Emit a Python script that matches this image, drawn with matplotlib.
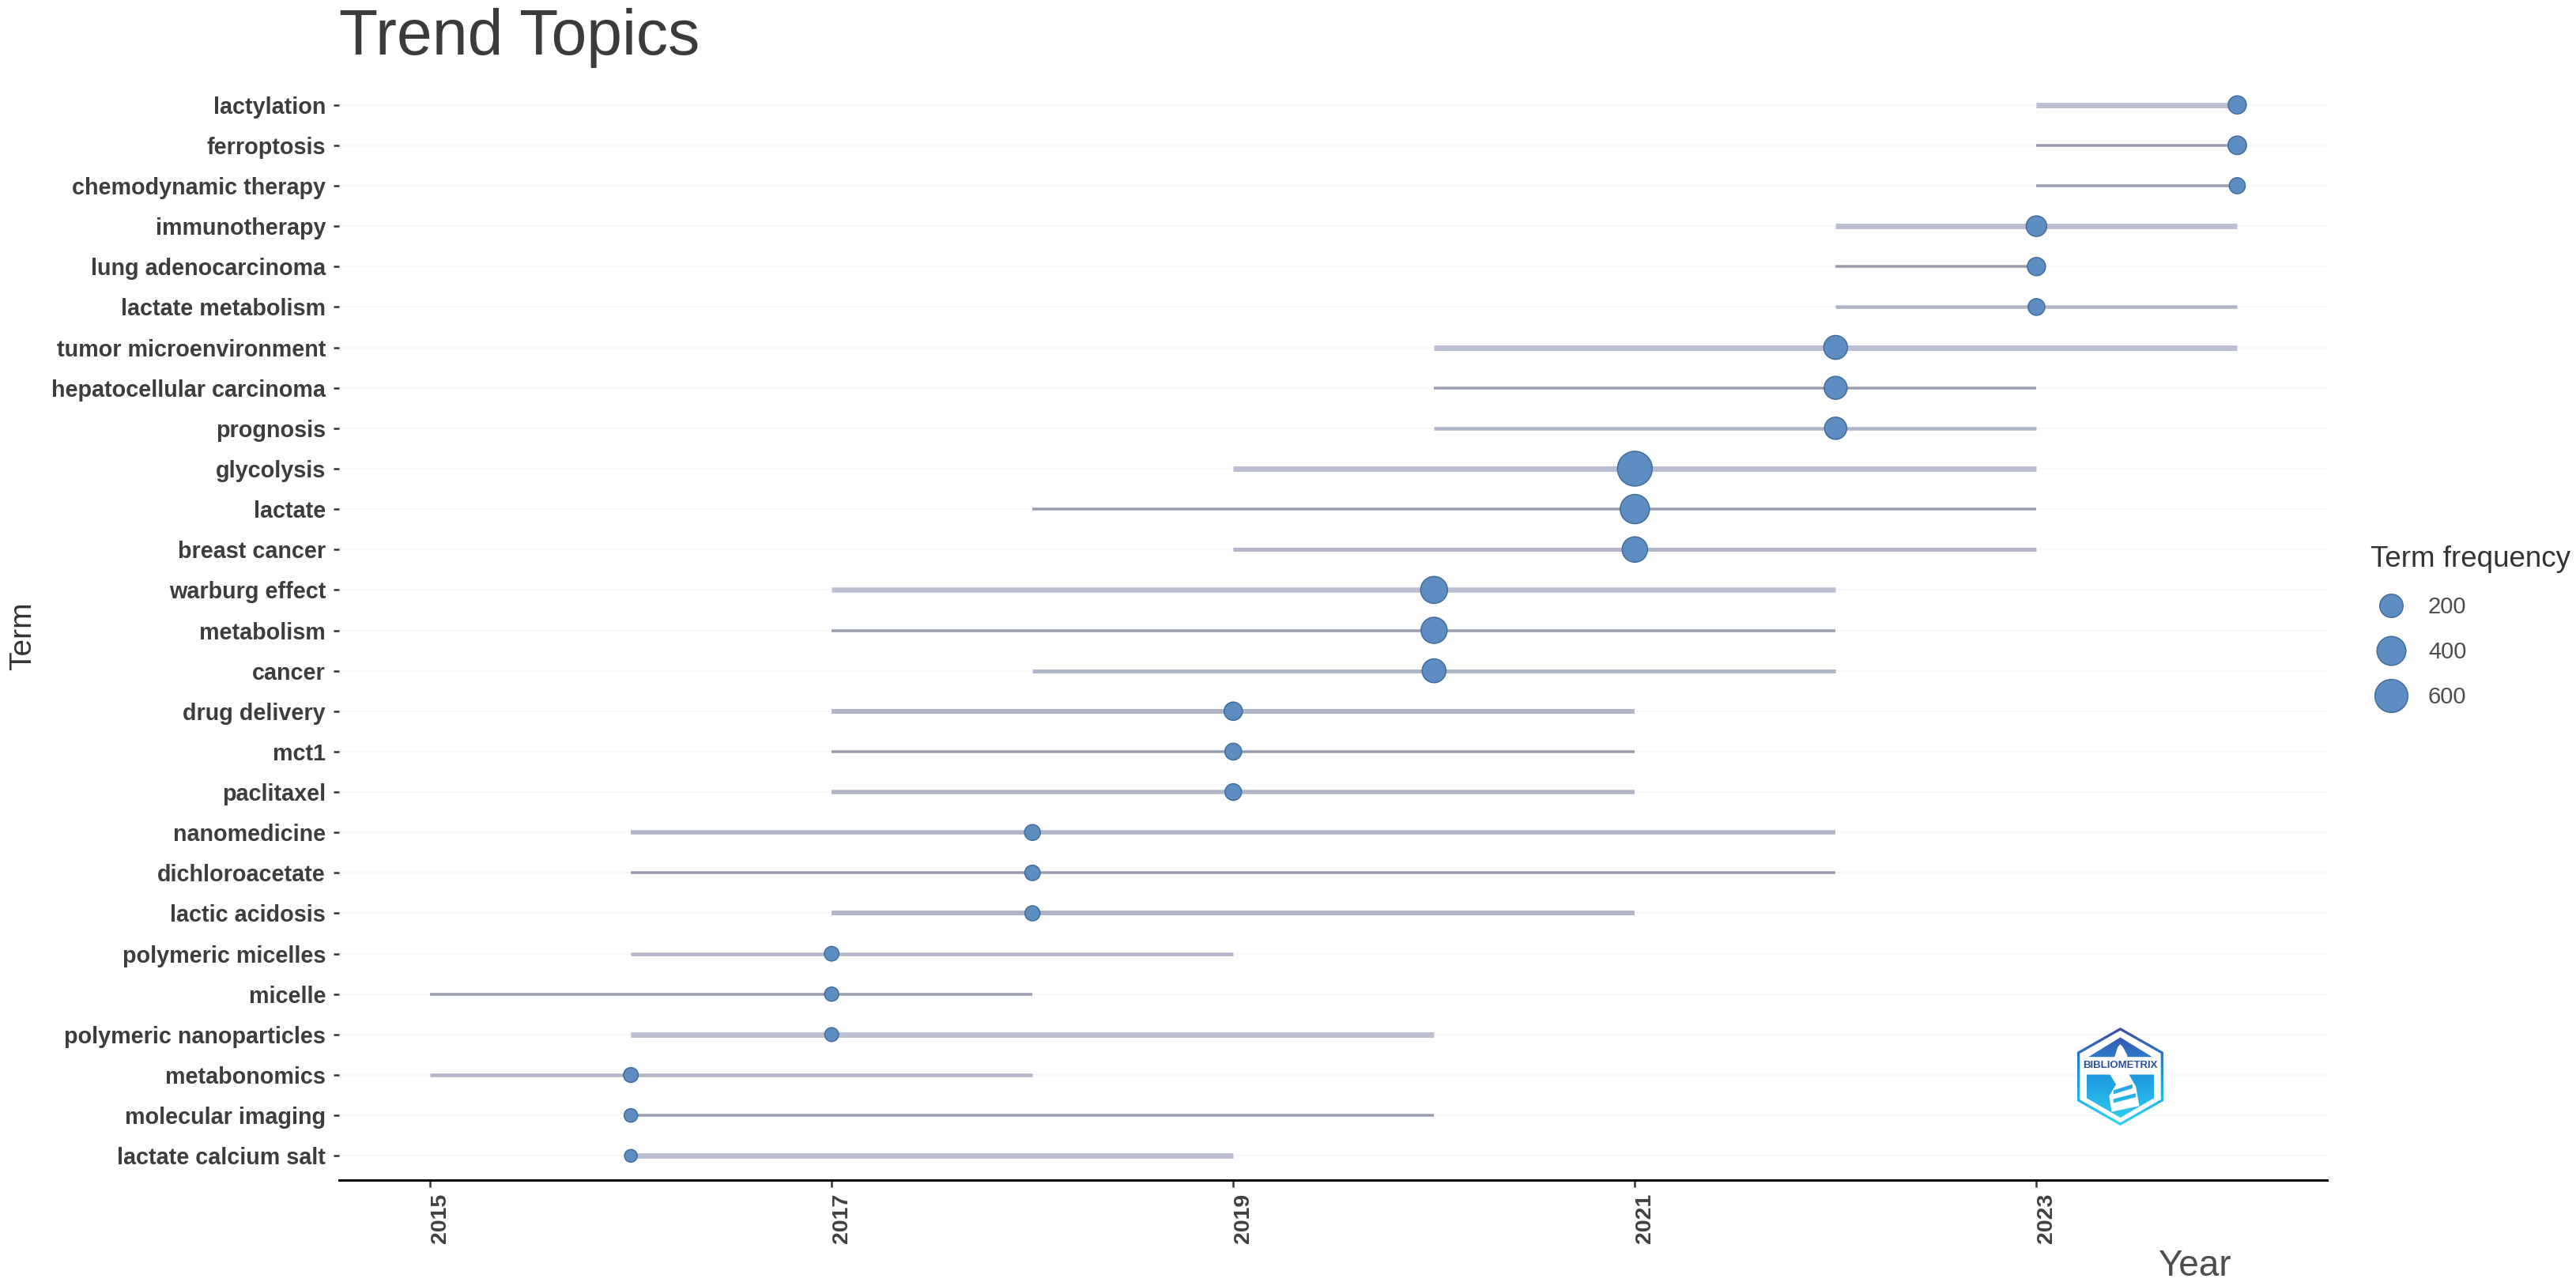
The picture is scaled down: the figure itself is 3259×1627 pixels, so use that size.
import numpy as np
import matplotlib
matplotlib.use("Agg")
import matplotlib.pyplot as plt
from matplotlib.patches import Polygon
from matplotlib.transforms import ScaledTranslation

plt.rcParams['font.family'] = ['Liberation Sans', 'DejaVu Sans']

# values, top row first
terms = ['lactylation', 'ferroptosis', 'chemodynamic therapy', 'immunotherapy',
         'lung adenocarcinoma', 'lactate metabolism', 'tumor microenvironment',
         'hepatocellular carcinoma', 'prognosis', 'glycolysis', 'lactate',
         'breast cancer', 'warburg effect', 'metabolism', 'cancer', 'drug delivery',
         'mct1', 'paclitaxel', 'nanomedicine', 'dichloroacetate', 'lactic acidosis',
         'polymeric micelles', 'micelle', 'polymeric nanoparticles', 'metabonomics',
         'molecular imaging', 'lactate calcium salt']
year_q1 = [2023, 2023, 2023, 2022, 2022, 2022, 2020, 2020, 2020, 2019, 2018, 2019, 2017, 2017,
           2018, 2017, 2017, 2017, 2016, 2016, 2017, 2016, 2015, 2016, 2015, 2016, 2016]
year_med = [2024, 2024, 2024, 2023, 2023, 2023, 2022, 2022, 2022, 2021, 2021, 2021, 2020, 2020,
            2020, 2019, 2019, 2019, 2018, 2018, 2018, 2017, 2017, 2017, 2016, 2016, 2016]
year_q3 = [2024, 2024, 2024, 2024, 2023, 2024, 2024, 2023, 2023, 2023, 2023, 2023, 2022, 2022,
           2022, 2021, 2021, 2021, 2022, 2022, 2021, 2019, 2018, 2020, 2018, 2020, 2019]
term_freq = [90, 95, 65, 133, 90, 72, 215, 190, 170, 700, 415, 265, 320, 290,
             215, 92, 72, 70, 63, 60, 58, 55, 53, 52, 56, 51, 50]
legend_freq = [200, 400, 600]
year_ticks = [2015, 2017, 2019, 2021, 2023]

# line thickness per row, in pixels
row_px = [7, 3.5, 3.5, 7, 3.5, 4.5, 7, 3.5, 4.5, 7, 3.5, 5, 6.5, 3.5, 5, 6, 3.5, 5.5,
          5.5, 3.5, 6, 4.5, 3.5, 7, 4.5, 3.5, 7]

DPI = 100
W, H = 3259, 1627
DOT = '#5d8dc1'
DOT_EDGE = '#406c9b'


def px(v):
    return v * 72 / DPI


def point_size(f):
    # area style size scale, same idea as scale_size in ggplot
    d = 16 + 28 * np.sqrt((np.asarray(f) - 50) / 650)
    return px(d) ** 2


fig = plt.figure(figsize=(W / DPI, H / DPI), dpi=DPI)
ax = fig.add_axes([429 / W, 1 - 1493 / H, (2944 - 429) / W, (1493 - 102) / H])

y = np.arange(len(terms))
ax.hlines(y, 0, 1, transform=ax.get_yaxis_transform(), color='#f8f8f8', lw=px(2), zorder=1)
ax.hlines(y, year_q1, year_q3, colors=['#9a9db0' if w < 4 else '#b2b5c8' if w < 6.5 else '#bcbfd4' for w in row_px],
          lw=[px(w) for w in row_px], capstyle='butt', zorder=2)
ax.scatter(year_med, y, s=point_size(term_freq), color=DOT, edgecolor=DOT_EDGE,
           linewidth=px(1.5), zorder=3)

ax.set_xlim(2014.547, 2024.447)
ax.set_ylim(len(terms) - 0.4, -0.6)
ax.set_yticks(y)
ax.set_yticklabels(terms, fontsize=20.7, fontweight='bold', color='#3d3d3d')
ax.set_xticks(year_ticks)
ax.set_xticklabels(year_ticks, rotation=90, ha='left', fontsize=20.5, fontweight='bold', color='#404040')
shift = ScaledTranslation(px(4) / 72, 0, fig.dpi_scale_trans)
for lab in ax.get_xticklabels():
    lab.set_transform(lab.get_transform() + shift)
ax.tick_params(axis='y', length=px(7), width=px(2.5), color='#333333', pad=px(10))
ax.tick_params(axis='x', length=px(9), width=px(2.5), color='#333333', pad=px(8))

for side in ['top', 'left', 'right']:
    ax.spines[side].set_visible(False)
ax.spines['bottom'].set_linewidth(px(3))
ax.spines['bottom'].set_color('black')

ax.set_title('Trend Topics', loc='left', fontsize=58, color='#3b3b3b', pad=px(33))
ax.set_xlabel('Year', fontsize=33, color='#4d4d4d', va='center')
ax.xaxis.set_label_coords((2776 - 429) / 2515, -(1602 - 1493) / 1391)
ax.set_ylabel('Term', fontsize=28, color='#333333', va='center')
ax.yaxis.set_label_coords((29 - 429) / 2515, 0.495)

# size legend
handles = [ax.scatter([], [], s=point_size(f), color=DOT, edgecolor=DOT_EDGE, linewidth=px(1.5),
                      label=str(f)) for f in legend_freq]
leg = ax.legend(handles=handles, title='Term frequency', frameon=False, fontsize=21, title_fontsize=26.5,
                loc='upper left', bbox_to_anchor=((2999 - 429) / 2515, 1 - (690 - 102) / 1391),
                borderaxespad=0, borderpad=0, labelspacing=1.0, handletextpad=0.7, handlelength=1.8,
                alignment='left', labelcolor='#4d4d4d', scatteryoffsets=[0.5])
leg.get_title().set_color('#333333')

# bibliometrix logo, rough copy
logo = fig.add_axes([2628 / W, 1 - 1424 / H, 109 / W, 124 / H])
logo.axis('off')
grad = np.linspace(0, 1, 200)[:, None]
cmap = matplotlib.colors.LinearSegmentedColormap.from_list('logo', ['#2fd3f2', '#1f9ae0', '#3d4aa6'])


def grad_patch(pts, z):
    im = logo.imshow(grad, origin='lower', extent=[0, 1, 0, 1], aspect='auto', cmap=cmap,
                     vmin=0, vmax=1, zorder=z)
    im.set_clip_path(Polygon(pts, closed=True, transform=logo.transData))


grad_patch([(.5, 1), (1, .75), (1, .25), (.5, 0), (0, .25), (0, .75)], 1)
logo.add_patch(Polygon([(.5, .97), (.97, .735), (.97, .265), (.5, .03), (.03, .265), (.03, .735)],
                       fc='white', ec='none', zorder=2))
grad_patch([(.5, .9), (.87, .70), (.13, .70)], 3)
grad_patch([(.11, .52), (.89, .52), (.89, .28), (.5, .08), (.11, .28)], 3)
logo.add_patch(Polygon([(.44, .72), (.47, .8), (.5, .83), (.53, .8), (.58, .72), (.6, .52), (.68, .4), (.72, .2),
                        (.4, .14), (.37, .3), (.45, .42), (.38, .52)], fc='white', ec='none', zorder=4))
# stripes on the tower
for pts in ([(.42, .36), (.64, .42), (.64, .38), (.42, .32)],
            [(.42, .27), (.68, .33), (.68, .29), (.42, .23)]):
    grad_patch(pts, 5)
logo.text(.5, .61, 'BIBLIOMETRIX', ha='center', va='center', fontsize=9.5, fontweight='bold',
          color='#2a4f9e', zorder=6)
logo.set_xlim(0, 1)
logo.set_ylim(0, 1)

fig.savefig('out.png', dpi=DPI, facecolor='white')
